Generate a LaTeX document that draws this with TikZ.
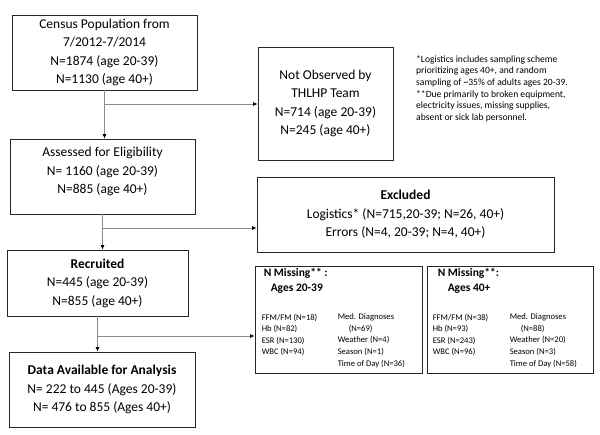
\documentclass[tikz,border=0pt]{standalone}
\usepackage{fontspec}
\setmainfont{Carlito}
\usetikzlibrary{positioning}
\usetikzlibrary{arrows.meta}

\begin{document}
\begin{tikzpicture}[
                            x=1pt, y=-1pt,
                            box/.style={draw=black!85, line width=0.9pt, align=center, inner sep=0pt,
                                        font=\fontsize{13.5}{18.5}\selectfont},
                            flow/.style={draw=black!45, line width=0.7pt,
                                         -{Latex[length=4.5pt, width=4pt, black]}},
                            mhead/.style={inner sep=0pt, align=left, font=\fontsize{11.5}{15}\selectfont\bfseries},
                            mcol/.style={inner sep=0pt, align=left, font=\fontsize{8.6}{11.6}\selectfont}
                            ]
                            \useasboundingbox (0,0) rectangle (600,434);

                            % main column
                            \node[box, minimum width=185, minimum height=75]  (census)    at (104.5,52.5)
                                {Census Population from\\7/2012-7/2014\\N=1874 (age 20-39)\\N=1130 (age 40+)};
                            \node[box, minimum width=185, minimum height=75]  (assessed)  at (102.5,176.5)
                                {Assessed for Eligibility\\N= 1160 (age 20-39)\\N=885 (age 40+)\\[-6.5pt]};
                            \node[box, minimum width=181, minimum height=66]  (recruited) at (97.5,283)
                                {\textbf{Recruited}\\N=445 (age 20-39)\\N=855 (age 40+)};
                            \node[box, minimum width=186, minimum height=75]  (data)      at (102,389.5)
                                {\textbf{Data Available for Analysis}\\N= 222 to 445 (Ages 20-39)\\N= 476 to 855 (Ages 40+)};

                            % side boxes
                            \node[box, minimum width=135, minimum height=113] (notobs)    at (325.5,103.5)
                                {Not Observed by\\THLHP Team\\N=714 (age 20-39)\\N=245 (age 40+)};
                            \node[box, minimum width=297, minimum height=75]  (excluded)  at (405.5,214.5)
                                {\textbf{Excluded}\\Logistics* (N=715,20-39; N=26, 40+)\\Errors (N=4, 20-39; N=4, 40+)};
                            \node[box, minimum width=167, minimum height=107] (miss1)     at (338.5,319.5) {};
                            \node[box, minimum width=166, minimum height=107] (miss2)     at (510,319.5)   {};

                            % contents of the missing boxes
                            \node[mhead, below right=3pt and 9pt of miss1.north west]   (head1)
                                {N Missing** :\\\hspace*{7pt}Ages 20-39};
                            \node[mcol, below right=48pt and 7pt of miss1.north west]   (lcol1)
                                {FFM/FM (N=18)\\Hb (N=82)\\ESR (N=130)\\WBC (N=94)};
                            \node[mcol, below right=48pt and 83pt of miss1.north west]  (rcol1)
                                {Med. Diagnoses\\\hspace*{11pt}(N=69)\\Weather (N=4)\\Season (N=1)\\Time of Day (N=36)};
                            \node[mhead, below right=3pt and 11pt of miss2.north west]  (head2)
                                {N Missing**:\\\hspace*{10pt}Ages 40+};
                            \node[mcol, below right=48pt and 6pt of miss2.north west]   (lcol2)
                                {FFM/FM (N=38)\\Hb (N=93)\\ESR (N=243)\\WBC (N=96)};
                            \node[mcol, below right=48pt and 83pt of miss2.north west]  (rcol2)
                                {Med. Diagnoses\\\hspace*{11pt}(N=88)\\Weather (N=20)\\Season (N=3)\\Time of Day (N=58)};

                            % footnotes
                            \node[mcol, anchor=north west, font=\fontsize{9.6}{11.7}\selectfont] (notes) at (416,55)
                                {*Logistics includes sampling scheme\\prioritizing ages 40+, and random\\sampling of \textasciitilde35\% of adults ages 20-39.\\**Due primarily to broken equipment,\\electricity issues, missing supplies,\\absent or sick lab personnel.};

                            % branch points
                            \coordinate (b1) at (census.south |- 0,104);
                            \coordinate (b2) at (assessed.south |- 0,228);
                            \coordinate (b3) at (recruited.south |- 0,336);

                            \path[flow] (census.south)    -- (census.south |- assessed.north);
                            \path[flow] (assessed.south)  -- (assessed.south |- recruited.north);
                            \path[flow] (recruited.south) -- (recruited.south |- data.north);

                            \path[flow] (b1) -- (b1 -| notobs.west);
                            \path[flow] (b2) -- (b2 -| excluded.west);
                            \path[flow] (b3) -- (b3 -| miss1.west);
                        \end{tikzpicture}
\end{document}
